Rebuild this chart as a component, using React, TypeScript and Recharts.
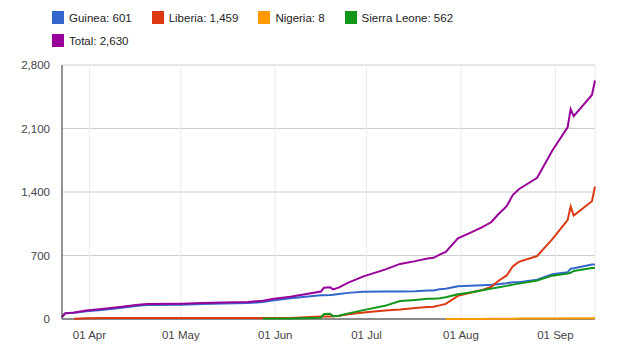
import { LineChart, Line, XAxis, YAxis, CartesianGrid } from "recharts";

// day of year 2014 (82 = 23 Mar, 257 = 14 Sep)
const days = [82, 83, 86, 90, 95, 101, 107, 110, 121, 128, 135, 143, 148, 151, 157, 167, 168, 170, 171, 173, 176, 181, 188, 193, 198, 202, 204, 206, 208, 212, 216, 220, 223, 225, 228, 230, 232, 238, 243, 248, 249, 250, 256, 257];

const guinea = [22, 62, 70, 86, 100, 121, 147, 155, 158, 165, 171, 176, 186, 205, 228, 262, 262, 265, 268, 276, 288, 300, 304, 304, 307, 315, 315, 328, 334, 360, 367, 373, 377, 382, 394, 404, 406, 434, 494, 515, 555, 560, 600, 601];
const liberia = [null, null, 2, 8, 10, 11, 11, 11, 11, 11, 11, 11, 11, 11, 12, 27, 27, 28, 29, 36, 52, 72, 95, 105, 121, 131, 135, 150, 166, 255, 290, 320, 355, 413, 480, 580, 630, 694, 880, 1090, 1240, 1140, 1298, 1459];
const nigeria = [null, null, null, null, null, null, null, null, null, null, null, null, null, null, null, null, null, null, null, null, null, null, null, null, null, null, null, null, 1, 1, 1, 1, 2, 3, 4, 4, 5, 5, 6, 7, 7, 7, 8, 8];
const sierraLeone = [null, null, null, null, null, null, null, null, null, null, null, null, 5, 5, 6, 14, 55, 58, 30, 36, 62, 98, 145, 198, 210, 222, 224, 230, 239, 273, 292, 318, 335, 348, 365, 379, 390, 424, 478, 500, 510, 530, 563, 562];
const total = [22, 62, 72, 94, 110, 132, 158, 166, 169, 176, 182, 187, 202, 221, 246, 303, 344, 350, 327, 348, 402, 470, 544, 607, 638, 668, 674, 709, 740, 889, 950, 1012, 1069, 1146, 1243, 1367, 1431, 1557, 1858, 2112, 2312, 2237, 2469, 2630];

const tickDays = [91, 121, 152, 182, 213, 244];
const tickLabels = ["01 Apr", "01 May", "01 Jun", "01 Jul", "01 Aug", "01 Sep"];
const yTicks = [0, 700, 1400, 2100, 2800];

const series = [
  { key: "guinea", name: "Guinea", color: "#3366cc", values: guinea },
  { key: "liberia", name: "Liberia", color: "#dc3912", values: liberia },
  { key: "nigeria", name: "Nigeria", color: "#ff9900", values: nigeria },
  { key: "sierraLeone", name: "Sierra Leone", color: "#109618", values: sierraLeone },
  { key: "total", name: "Total", color: "#990099", values: total },
];

const data = days.map((day, i) => {
  const row: Record<string, number | null> = { day };
  series.forEach((s) => {
    row[s.key] = s.values[i];
  });
  return row;
});

const font = "'Liberation Sans', Arial, sans-serif";

function lastValue(values: (number | null)[]) {
  const v = values.filter((x) => x !== null) as number[];
  return v[v.length - 1].toLocaleString("en-US");
}

function LegendItem({ s }: { s: (typeof series)[number] }) {
  return (
    <div style={{ display: "flex", alignItems: "center", marginRight: 20 }}>
      <div style={{ width: 12, height: 13, background: s.color, marginRight: 5 }} />
      <span style={{ fontSize: 11.5, color: "#222" }}>
        {s.name}: {lastValue(s.values)}
      </span>
    </div>
  );
}

export default function App() {
  return (
    <div style={{ position: "absolute", left: 0, top: 0, width: 624, height: 351, background: "#fff", fontFamily: font }}>
      <div style={{ position: "absolute", left: 52, top: 11, display: "flex" }}>
        {series.slice(0, 4).map((s) => (
          <LegendItem key={s.key} s={s} />
        ))}
      </div>
      <div style={{ position: "absolute", left: 52, top: 34, display: "flex" }}>
        <LegendItem s={series[4]} />
      </div>
      <LineChart width={624} height={351} data={data} margin={{ top: 65, right: 29, left: 0, bottom: 0 }}>
        <CartesianGrid vertical={false} stroke="#cccccc" />
        <CartesianGrid horizontal={false} stroke="#ebebeb" />
        {/* baseline drawn as grid so the series sit on top of it */}
        <CartesianGrid vertical={false} horizontalPoints={[319]} stroke="#333" />
        <XAxis
          dataKey="day"
          type="number"
          domain={[82, 257]}
          ticks={tickDays}
          tickFormatter={(d) => tickLabels[tickDays.indexOf(d)]}
          height={32}
          tickLine={false}
          tickMargin={6}
          axisLine={false}
          tick={{ fill: "#444", fontSize: 11.5, fontFamily: font }}
        />
        <YAxis
          domain={[0, 2800]}
          ticks={yTicks}
          width={62}
          tickLine={false}
          tickMargin={6}
          axisLine={{ stroke: "#333" }}
          tickFormatter={(v) => v.toLocaleString("en-US")}
          tick={{ fill: "#444", fontSize: 11.5, fontFamily: font }}
        />
        {series.map((s) => (
          <Line
            key={s.key}
            dataKey={s.key}
            stroke={s.color}
            strokeWidth={2}
            dot={false}
            type="linear"
            isAnimationActive={false}
          />
        ))}
      </LineChart>
    </div>
  );
}
